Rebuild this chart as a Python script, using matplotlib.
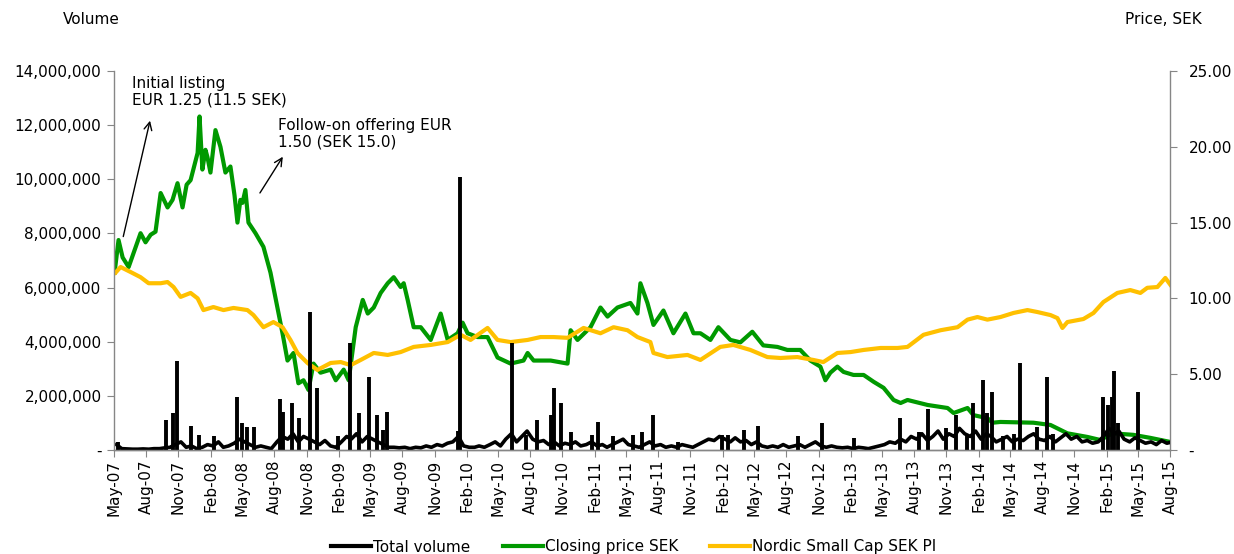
import matplotlib
matplotlib.use("Agg")
import matplotlib.pyplot as plt
import pandas as pd
from datetime import datetime, timedelta

# ---------------- data ----------------
# Closing price SEK: (decimal year, price)
close_t = [2007.333, 2007.364, 2007.396, 2007.443, 2007.49, 2007.536, 2007.575, 2007.615, 2007.653,
           2007.693, 2007.747, 2007.786, 2007.825, 2007.864, 2007.896, 2007.927, 2007.982, 2007.997,
           2008.02, 2008.044, 2008.06, 2008.083, 2008.122, 2008.161, 2008.2, 2008.239, 2008.271,
           2008.294, 2008.317, 2008.333, 2008.356, 2008.38, 2008.435, 2008.497, 2008.552, 2008.606,
           2008.646, 2008.685, 2008.732, 2008.77, 2008.81, 2008.849, 2008.888, 2008.943, 2009.02,
           2009.06, 2009.122, 2009.161, 2009.216, 2009.271, 2009.31, 2009.357, 2009.411, 2009.466,
           2009.513, 2009.567, 2009.591, 2009.622, 2009.669, 2009.724, 2009.802, 2009.88, 2009.935,
           2010.013, 2010.052, 2010.091, 2010.169, 2010.247, 2010.325, 2010.427, 2010.528, 2010.56,
           2010.607, 2010.74, 2010.872, 2010.896, 2010.95, 2011.052, 2011.13, 2011.185, 2011.263,
           2011.364, 2011.419, 2011.442, 2011.497, 2011.544, 2011.622, 2011.7, 2011.794, 2011.857,
           2011.911, 2011.989, 2012.052, 2012.146, 2012.224, 2012.317, 2012.403, 2012.513, 2012.591,
           2012.692, 2012.771, 2012.849, 2012.888, 2012.927, 2012.982, 2013.028, 2013.106, 2013.185,
           2013.263, 2013.341, 2013.419, 2013.474, 2013.528, 2013.685, 2013.841, 2013.888, 2013.997,
           2014.044, 2014.153, 2014.193, 2014.255, 2014.513, 2014.646, 2014.778, 2014.935, 2015.036,
           2015.13, 2015.294, 2015.427, 2015.583]
close_p = [11.7, 13.85, 12.7, 12.07, 13.2, 14.3, 13.7, 14.2, 14.4,
           16.95, 16.0, 16.5, 17.6, 16.0, 17.5, 17.8, 19.6, 22.0,
           18.5, 19.8, 19.3, 18.3, 21.1, 20.0, 18.3, 18.7, 16.8,
           15.0, 16.5, 16.3, 17.15, 15.0, 14.3, 13.4, 11.7, 9.4,
           7.7, 5.9, 6.4, 4.4, 4.6, 3.96, 5.7, 5.1, 5.3,
           4.6, 5.3, 4.6, 8.1, 9.9, 9.0, 9.4, 10.36, 11.0,
           11.4, 10.75, 11.0, 9.9, 8.1, 8.1, 7.26, 9.0, 7.26,
           7.7, 8.4, 7.7, 7.45, 7.45, 6.1, 5.7, 5.9, 6.4,
           5.9, 5.9, 5.7, 7.9, 7.26, 8.1, 9.4, 8.8, 9.4,
           9.7, 9.0, 11.0, 9.7, 8.25, 9.2, 7.7, 9.0, 7.7,
           7.7, 7.26, 8.1, 7.26, 7.1, 7.8, 6.9, 6.8, 6.6,
           6.6, 5.9, 5.5, 4.6, 5.1, 5.5, 5.15, 4.95, 4.95,
           4.5, 4.1, 3.3, 3.1, 3.3, 2.97, 2.77, 2.44, 2.77,
           2.3, 2.1, 1.8, 1.85, 1.8, 1.65, 1.1, 0.86, 0.66,
           1.1, 1.0, 0.8, 0.53]

# Nordic Small Cap SEK PI: (decimal year, level on price axis)
nordic_t = [2007.341, 2007.38, 2007.458, 2007.536, 2007.599, 2007.693, 2007.747, 2007.794, 2007.849,
            2007.927, 2007.982, 2008.028, 2008.106, 2008.185, 2008.263, 2008.372, 2008.419, 2008.497,
            2008.575, 2008.646, 2008.708, 2008.763, 2008.841, 2008.919, 2009.02, 2009.099, 2009.177,
            2009.255, 2009.357, 2009.466, 2009.567, 2009.669, 2009.802, 2009.935, 2010.036, 2010.114,
            2010.247, 2010.325, 2010.427, 2010.56, 2010.661, 2010.763, 2010.872, 2010.997, 2011.13,
            2011.232, 2011.341, 2011.419, 2011.52, 2011.544, 2011.653, 2011.81, 2011.911, 2012.067,
            2012.169, 2012.302, 2012.435, 2012.536, 2012.669, 2012.794, 2012.872, 2012.982, 2013.083,
            2013.185, 2013.318, 2013.45, 2013.528, 2013.653, 2013.786, 2013.919, 2013.997, 2014.075,
            2014.153, 2014.255, 2014.357, 2014.466, 2014.544, 2014.646, 2014.7, 2014.739, 2014.778,
            2014.903, 2014.982, 2015.06, 2015.169, 2015.27, 2015.349, 2015.403, 2015.482, 2015.544,
            2015.583]
nordic_p = [11.7, 12.07, 11.74, 11.4, 11.0, 11.0, 11.08, 10.75, 10.1,
            10.36, 10.0, 9.23, 9.43, 9.23, 9.37, 9.23, 8.9, 8.1,
            8.44, 8.1, 7.26, 6.4, 5.74, 5.28, 5.74, 5.8, 5.6,
            5.94, 6.4, 6.27, 6.46, 6.8, 6.93, 7.12, 7.6, 7.26,
            8.05, 7.26, 7.12, 7.26, 7.45, 7.45, 7.4, 8.05, 7.7,
            8.1, 7.9, 7.45, 7.12, 6.4, 6.13, 6.27, 5.94, 6.8,
            6.93, 6.6, 6.13, 6.07, 6.13, 5.94, 5.8, 6.4, 6.46,
            6.6, 6.73, 6.73, 6.8, 7.6, 7.9, 8.1, 8.6, 8.77,
            8.6, 8.77, 9.04, 9.23, 9.1, 8.9, 8.7, 8.05, 8.44,
            8.64, 9.04, 9.76, 10.36, 10.55, 10.36, 10.7, 10.75, 11.35,
            10.9]

# Total volume: semi-monthly baseline (May-07 .. Aug-15), millions of shares
volume_base = [
    # 2007 May-Dec
    0.2, 0.05, 0.04, 0.03, 0.03, 0.04, 0.03, 0.05, 0.05, 0.08, 0.1, 0.2, 0.3, 0.1, 0.15, 0.05,
    # 2008
    0.1, 0.2, 0.15, 0.3, 0.1, 0.15, 0.25, 0.4, 0.3, 0.2, 0.1, 0.15,
    0.1, 0.05, 0.3, 0.5, 0.4, 0.6, 0.3, 0.5, 0.4, 0.3, 0.2, 0.35,
    # 2009
    0.15, 0.1, 0.3, 0.5, 0.4, 0.6, 0.3, 0.5, 0.4, 0.3, 0.2, 0.1,
    0.1, 0.08, 0.1, 0.05, 0.1, 0.08, 0.15, 0.1, 0.2, 0.15, 0.25, 0.3,
    # 2010
    0.5, 0.15, 0.1, 0.1, 0.15, 0.1, 0.2, 0.3, 0.15, 0.4, 0.6, 0.3,
    0.5, 0.7, 0.4, 0.3, 0.35, 0.2, 0.3, 0.15, 0.25, 0.2, 0.3, 0.15,
    # 2011
    0.2, 0.3, 0.15, 0.2, 0.1, 0.2, 0.3, 0.4, 0.2, 0.15, 0.1, 0.2,
    0.3, 0.15, 0.2, 0.1, 0.15, 0.1, 0.2, 0.15, 0.1, 0.2, 0.3, 0.4,
    # 2012
    0.35, 0.5, 0.4, 0.3, 0.45, 0.3, 0.35, 0.2, 0.3, 0.15, 0.1, 0.15,
    0.1, 0.2, 0.1, 0.15, 0.2, 0.1, 0.2, 0.3, 0.15, 0.1, 0.15, 0.1,
    # 2013
    0.08, 0.1, 0.05, 0.1, 0.08, 0.05, 0.1, 0.15, 0.2, 0.3, 0.25, 0.4,
    0.3, 0.5, 0.4, 0.6, 0.35, 0.5, 0.7, 0.4, 0.6, 0.5, 0.8, 0.6,
    # 2014
    0.5, 0.7, 0.4, 0.6, 0.5, 0.3, 0.4, 0.5, 0.3, 0.4, 0.35, 0.5,
    0.6, 0.4, 0.35, 0.5, 0.3, 0.45, 0.6, 0.4, 0.5, 0.3, 0.35, 0.25,
    # 2015 Jan-Aug
    0.3, 0.5, 0.8, 0.6, 0.7, 0.4, 0.3, 0.45, 0.35, 0.25, 0.3, 0.2, 0.35, 0.25, 0.3, 0.2,
]
# Total volume: daily spikes (decimal year, millions of shares)
spike_t = [2007.357, 2007.731, 2007.786, 2007.817, 2007.927, 2007.99, 2008.114, 2008.294, 2008.333,
           2008.372, 2008.427, 2008.63, 2008.653, 2008.724, 2008.778, 2008.857, 2008.919, 2009.075,
           2009.169, 2009.239, 2009.317, 2009.38, 2009.427, 2009.458, 2010.013, 2010.028, 2010.435,
           2010.544, 2010.63, 2010.739, 2010.763, 2010.817, 2010.896, 2011.06, 2011.114, 2011.224,
           2011.388, 2011.458, 2011.544, 2011.739, 2012.083, 2012.13, 2012.255, 2012.364, 2012.677,
           2012.864, 2013.106, 2013.466, 2013.614, 2013.685, 2013.825, 2013.903, 2013.989, 2014.044,
           2014.122, 2014.146, 2014.185, 2014.271, 2014.357, 2014.411, 2014.544, 2014.622, 2014.669,
           2015.06, 2015.099, 2015.13, 2015.146, 2015.177, 2015.333]
spike_v = [0.3, 1.1, 1.35, 3.3, 0.9, 0.55, 0.5, 1.95, 1.0,
           0.85, 0.85, 1.9, 1.4, 1.75, 1.2, 5.1, 2.3, 0.5,
           3.95, 1.35, 2.7, 1.3, 0.75, 1.4, 0.7, 10.1, 3.95,
           0.55, 1.1, 1.3, 2.3, 1.75, 0.65, 0.55, 1.05, 0.5,
           0.55, 0.65, 1.3, 0.3, 0.55, 0.55, 0.75, 0.9, 0.5,
           1.0, 0.45, 1.2, 0.65, 1.5, 0.8, 1.3, 0.55, 1.75,
           2.6, 1.35, 2.15, 0.5, 0.6, 3.2, 0.85, 2.7, 0.6,
           1.95, 1.65, 1.95, 2.9, 1.0, 2.15]

vol_ticks = [0, 2e6, 4e6, 6e6, 8e6, 10e6, 12e6, 14e6]
price_ticks = [0, 5, 10, 15, 20, 25]


def to_date(d):
    y = int(d)
    return datetime(y, 1, 1) + timedelta(days=(d - y) * 365.25)


close_d = [to_date(t) for t in close_t]
nordic_d = [to_date(t) for t in nordic_t]
spike_d = [to_date(t) for t in spike_t]
months = pd.date_range("2007-05-01", periods=len(volume_base) // 2, freq="MS")
base_d = []
for m in months:
    base_d.append(m + pd.Timedelta(days=7))
    base_d.append(m + pd.Timedelta(days=22))

# ---------------- figure ----------------
plt.rcParams["font.family"] = ["DejaVu Sans"]
fig = plt.figure(figsize=(12.34, 5.54), dpi=100)
ax = fig.add_axes([114 / 1234, 1 - 450 / 554, (1170 - 114) / 1234, (450 - 71) / 554])
ax2 = ax.twinx()

GREEN = "#009900"
GOLD = "#FFC000"
GRAY = "#868686"

l2, = ax2.plot(close_d, close_p, color=GREEN, lw=3.0, solid_joinstyle="round")
l3, = ax2.plot(nordic_d, nordic_p, color=GOLD, lw=3.0, solid_joinstyle="round")

l1, = ax.plot(base_d, [v * 1e6 for v in volume_base], color="black", lw=2.6)
ax.vlines(spike_d, 0, [v * 1e6 for v in spike_v], color="black", lw=2.8)

ax.set_zorder(ax2.get_zorder() + 1)
ax.patch.set_visible(False)

ax.set_ylim(0, 14e6)
ax2.set_ylim(0, 25)
ax.set_xlim(datetime(2007, 5, 1), datetime(2015, 8, 1))

ax.set_yticks(vol_ticks)
ax.set_yticklabels(["-" if v == 0 else f"{int(v):,}" for v in vol_ticks])
ax2.set_yticks(price_ticks)
ax2.set_yticklabels(["-" if v == 0 else f"{v:.2f}" for v in price_ticks])

xt = pd.date_range("2007-05-01", "2015-08-01", freq="3MS")
ax.set_xticks(list(xt))
ax.set_xticklabels([d.strftime("%b-%y") for d in xt], rotation=90)

for a in (ax, ax2):
    for s in a.spines.values():
        s.set_color(GRAY)
        s.set_linewidth(1.0)
    a.spines["top"].set_visible(False)

ax.spines["right"].set_visible(False)
ax2.spines["left"].set_visible(False)

ax.tick_params(axis="y", direction="out", length=5, color=GRAY, labelsize=11, pad=4)
ax.tick_params(axis="x", direction="out", length=5, color=GRAY, labelsize=11, pad=2)
ax2.tick_params(axis="y", direction="out", length=5, color=GRAY, labelsize=11, pad=8.5)

fig.text(63 / 1234, 1 - 20 / 554, "Volume", fontsize=11, va="center", ha="left")
fig.text(1125 / 1234, 1 - 20 / 554, "Price, SEK", fontsize=11, va="center", ha="left")

# annotations
ax2.annotate("", xy=(to_date(2007.615), 21.9), xytext=(to_date(2007.396), 13.9),
             arrowprops=dict(arrowstyle="->", color="black", lw=1.0, mutation_scale=14))
ax2.text(to_date(2007.466), 24.7, "Initial listing\nEUR 1.25 (11.5 SEK)", fontsize=11,
         va="top", ha="left", linespacing=1.15)
ax2.annotate("", xy=(to_date(2008.66), 19.5), xytext=(to_date(2008.458), 16.8),
             arrowprops=dict(arrowstyle="->", color="black", lw=1.0, mutation_scale=14))
ax2.text(to_date(2008.607), 21.9, "Follow-on offering EUR\n1.50 (SEK 15.0)", fontsize=11,
         va="top", ha="left", linespacing=1.15)

leg = fig.legend([l1, l2, l3], ["Total volume", "Closing price SEK", "Nordic Small Cap SEK PI"],
                 loc="center", bbox_to_anchor=(0.5 + 17 / 1234, 1 - 547 / 554), ncol=3, frameon=False,
                 fontsize=11, handlelength=2.6, handletextpad=0.15, columnspacing=2.1)
for h in leg.legend_handles:
    h.set_linewidth(3.0)

fig.savefig("out.png", dpi=100)
